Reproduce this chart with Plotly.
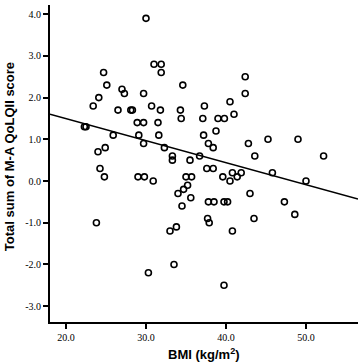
import plotly.graph_objects as go

# BMI (kg/m2) values
bmi = [30.0, 24.7, 25.1, 24.1, 23.4, 27.0, 27.3, 29.7, 26.5, 28.1,
       28.3, 30.7, 31.8, 31.0, 31.9, 31.9, 28.9, 29.7, 31.5, 31.6,
       29.1, 29.7, 32.3, 22.3, 22.5, 25.9, 24.9, 24.0, 24.25, 24.8,
       29.0, 29.8, 30.9, 33.3, 33.3, 34.3, 34.4, 34.6, 42.4, 42.4,
       40.5, 37.3, 37.1, 39.0, 39.8, 41.0, 38.75, 37.2, 37.8, 38.4,
       42.8, 45.25, 49.0, 52.2, 43.6, 36.7, 35.5, 37.6, 38.4, 39.6,
       40.8, 41.4, 41.9, 45.8, 50.0, 35.0, 35.7, 40.5, 35.2, 34.7,
       34.0, 35.6, 34.5, 43.0, 37.8, 38.5, 39.75, 40.2, 37.7, 37.9,
       43.5, 40.8, 33.0, 33.8, 39.75, 47.3, 48.6, 23.8, 30.3, 33.5]
# Total sum of M-A QoLQII score
score = [3.9, 2.6, 2.3, 2.0, 1.8, 2.2, 2.1, 2.1, 1.7, 1.7,
         1.7, 1.8, 1.7, 2.8, 2.8, 2.6, 1.4, 1.4, 1.4, 1.1,
         1.1, 0.9, 0.8, 1.3, 1.3, 1.1, 0.8, 0.7, 0.3, 0.1,
         0.1, 0.1, 0.0, 0.6, 0.5, 1.7, 1.5, 2.3, 2.5, 2.1,
         1.9, 1.8, 1.5, 1.5, 1.5, 1.6, 1.2, 1.1, 0.9, 0.8,
         0.9, 1.0, 1.0, 0.6, 0.6, 0.6, 0.5, 0.3, 0.3, 0.1,
         0.2, 0.1, 0.2, 0.2, 0.0, 0.1, 0.1, 0.0, -0.1, -0.2,
         -0.3, -0.4, -0.6, -0.3, -0.5, -0.5, -0.5, -0.5, -0.9, -1.0,
         -0.9, -1.2, -1.2, -1.1, -2.5, -0.5, -0.8, -1.0, -2.2, -2.0]

# Linear fit line endpoints (data units)
fit_x = [18.0, 56.5]
fit_y = [1.6, -0.43]

x_ticks = [20, 30, 40, 50]
x_tick_labels = ["20.0", "30.0", "40.0", "50.0"]
y_ticks = [-3, -2, -1, 0, 1, 2, 3, 4]
y_tick_labels = ["-3.0", "-2.0", "-1.0", "0.0", "1.0", "2.0", "3.0", "4.0"]

fig = go.Figure()
fig.add_trace(go.Scatter(
    x=bmi, y=score, mode="markers",
    marker=dict(symbol="circle-open", size=6, color="black",
                line=dict(width=1.6, color="black")),
    showlegend=False, hoverinfo="skip"))
fig.add_trace(go.Scatter(
    x=fit_x, y=fit_y, mode="lines",
    line=dict(color="black", width=1.5),
    showlegend=False, hoverinfo="skip"))

tick_font = dict(family="Liberation Serif", size=10, color="black")
fig.update_xaxes(range=[18.0, 56.5], tickvals=x_ticks, ticktext=x_tick_labels,
                 showline=True, linecolor="black", linewidth=2,
                 ticks="outside", ticklen=5, tickwidth=1.5, tickcolor="black",
                 showgrid=False, zeroline=False, tickfont=tick_font)
fig.update_yaxes(range=[-3.38, 4.22], tickvals=y_ticks, ticktext=y_tick_labels,
                 showline=True, linecolor="black", linewidth=2,
                 ticks="outside", ticklen=5, tickwidth=1.5, tickcolor="black",
                 showgrid=False, zeroline=False, tickfont=tick_font)

fig.update_layout(
    width=364, height=362,
    margin=dict(l=50, r=6, t=5, b=40),
    plot_bgcolor="white", paper_bgcolor="white",
    annotations=[
        dict(text="<b>Total sum of M-A QoLQII score</b>", xref="paper", yref="paper",
             x=0, y=0.52, xshift=-41, xanchor="center", yanchor="middle",
             textangle=-90, showarrow=False,
             font=dict(family="Liberation Sans", size=13, color="black")),
        dict(text="<b>BMI (kg/m<sup>2</sup>)</b>", xref="paper", yref="paper",
             x=0.5, y=0, yshift=-32, xanchor="center", yanchor="middle",
             showarrow=False,
             font=dict(family="Liberation Sans", size=13, color="black")),
    ])

fig.write_html("out.html")
